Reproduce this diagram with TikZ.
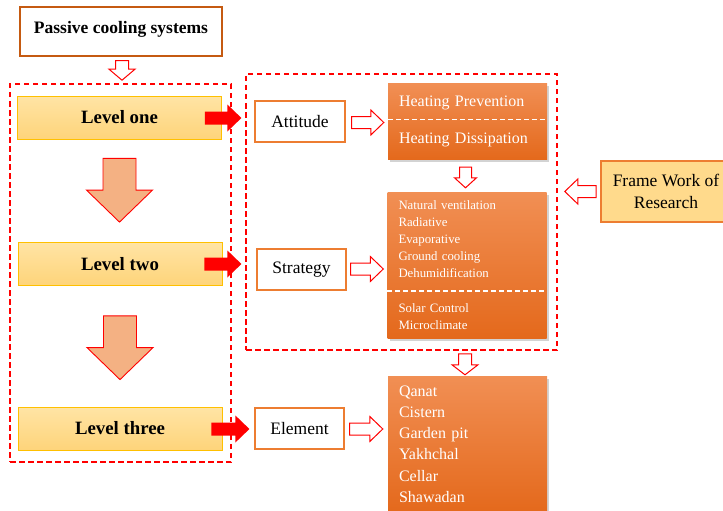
\documentclass[tikz,border=0pt]{standalone}
\usepackage{fontspec}
\setmainfont{Liberation Serif}
\usepackage{xcolor}
\usetikzlibrary{calc,shadows}
\definecolor{levelTop}{RGB}{255,228,165}
\definecolor{levelBot}{RGB}{254,212,122}
\definecolor{levelEdge}{RGB}{255,192,0}
\definecolor{listTop}{RGB}{241,143,84}
\definecolor{listBot}{RGB}{228,105,28}
\definecolor{boxEdge}{RGB}{237,125,49}
\definecolor{titleEdge}{RGB}{197,90,17}
\definecolor{bigArrow}{RGB}{244,177,131}
\definecolor{frameFill}{RGB}{255,218,140}
% block arrows between two points: [style]{from}{to}{half shaft}{half head}{head length}
\newcommand{\harrow}[6][]{%
  \path[#1] let \p1=(#2), \p2=(#3) in
    (\x1,{\y1-#4}) -- ({\x2-(#6)},{\y1-#4}) -- ({\x2-(#6)},{\y1-#5}) -- (\x2,\y1)
    -- ({\x2-(#6)},{\y1+#5}) -- ({\x2-(#6)},{\y1+#4}) -- (\x1,{\y1+#4}) -- cycle;}
\newcommand{\varrow}[6][]{%
  \path[#1] let \p1=(#2), \p2=(#3) in
    ({\x1-#4},\y1) -- ({\x1-#4},{\y2+#6}) -- ({\x1-#5},{\y2+#6}) -- (\x1,\y2)
    -- ({\x1+#5},{\y2+#6}) -- ({\x1+#4},{\y2+#6}) -- ({\x1+#4},\y1) -- cycle;}

\begin{document}
\begin{tikzpicture}[
  x=1pt, y=-1pt,
  titlebox/.style={draw=titleEdge, line width=1.2pt, fill=white, minimum width=202pt, minimum height=49pt, font=\fontsize{17.5}{21}\selectfont\bfseries},
  levelbox/.style={draw=levelEdge, line width=0.8pt, top color=levelTop, bottom color=levelBot, minimum width=204pt, minimum height=43pt, font=\fontsize{18.8}{22}\selectfont\bfseries},
  plainbox/.style={draw=boxEdge, line width=1.2pt, fill=white, minimum width=89pt, minimum height=41pt, font=\fontsize{17.5}{21}\selectfont},
  listbox/.style={top color=listTop, bottom color=listBot, text=white, align=left, inner xsep=11pt, inner ysep=0pt, text width=137pt,
    drop shadow={opacity=0.35, shadow xshift=2pt, shadow yshift=-2.5pt}},
  dashframe/.style={draw=red, line width=1.6pt, dash pattern=on 5.5pt off 3.5pt},
  hollow/.style={draw=red, line width=1pt, fill=white},
  solid/.style={fill=red},
  bigdown/.style={draw=red, line width=0.9pt, fill=bigArrow},
  divider/.style={draw=white, line width=1.3pt, dash pattern=on 5pt off 3pt}
]
  \useasboundingbox (0,0) rectangle (723,511);
  \clip (0,0) rectangle (723,511);

  % dashed groups
  \node[dashframe, minimum width=221pt, minimum height=378pt] (lvlframe) at (120.5,273) {};
  \node[dashframe, minimum width=311pt, minimum height=276pt] (rframe) at (401.5,212) {};

  % left column
  \node[titlebox] (passive) at (121,31.5) {\raisebox{8pt}{Passive cooling systems}};
  \node[levelbox] (one) at (119.5,117.5) {Level one};
  \node[levelbox] (two) at (120,264) {Level two};
  \node[levelbox] (three) at (120,428.5) {Level three};

  % middle column
  \node[plainbox, minimum width=90pt] (att) at (300,121.5) {Attitude};
  \node[plainbox] (strat) at (301.5,269.5) {Strategy};
  \node[plainbox] (elem) at (299.5,428.5) {Element};

  % right column
  \node[listbox, minimum height=75pt, font=\fontsize{16}{37}\selectfont] (heat) at (467.5,121.5)
    {Heating Prevention\\Heating Dissipation};
  \node[listbox, minimum height=146pt, font=\fontsize{12.8}{17.1}\selectfont] (slist) at (467,265)
    {Natural ventilation\\Radiative\\Evaporative\\Ground cooling\\Dehumidification\\[17.1pt]Solar Control\\Microclimate};
  \node[listbox, minimum height=136pt, font=\fontsize{16}{21.2}\selectfont] (elist) at (467.5,444)
    {Qanat\\Cistern\\Garden pit\\Yakhchal\\Cellar\\Shawadan};
  \draw[divider] ($(heat.west)+(0,-2)$) -- ($(heat.east)+(0,-2)$);
  \draw[divider] ($(slist.west)+(0,26)$) -- ($(slist.east)+(0,26)$);

  \node[draw=boxEdge, line width=2pt, fill=frameFill, minimum width=130pt, minimum height=61pt, align=center,
    font=\fontsize{17.5}{22}\selectfont] (frame) at (666,191.5) {Frame Work of\\Research};

  % arrows
  \varrow[hollow]{$(passive.south)+(1,4)$}{$(lvlframe.north)+(1,-3)$}{6.5pt}{13pt}{11pt}
  \varrow[bigdown]{$(one.south)+(0,19)$}{$(two.north)+(0,-20)$}{16.5pt}{33pt}{32pt}
  \varrow[bigdown]{$(two.south)+(0,30)$}{$(three.north)+(0,-27)$}{16.5pt}{33pt}{32pt}

  \harrow[solid]{$(one.east)+(-17,0.5)$}{$(att.west)+(-13,0)$}{6.5pt}{13.5pt}{14pt}
  \harrow[solid]{$(two.east)+(-18,0)$}{$(strat.west)+(-15,0)$}{6.5pt}{13.5pt}{14pt}
  \harrow[solid]{$(three.east)+(-11,0.5)$}{$(elem.west)+(-5,0)$}{6.5pt}{13.5pt}{14pt}

  \harrow[hollow]{$(att.east)+(6,1)$}{$(heat.west)+(-4,1)$}{6pt}{12.5pt}{13pt}
  \harrow[hollow]{$(strat.east)+(4,-0.5)$}{$(slist.west)+(-4,-0.5)$}{6pt}{12.5pt}{13pt}
  \harrow[hollow]{$(elem.east)+(5,0.5)$}{$(elist.west)+(-5,0.5)$}{6pt}{12.5pt}{13pt}

  \varrow[hollow]{$(heat.south)+(-2,8)$}{$(slist.north)+(-2,-4)$}{6pt}{11pt}{10pt}
  \varrow[hollow]{$(rframe.south)+(63.5,3)$}{$(elist.north)+(-2.5,-1)$}{6.5pt}{13pt}{10pt}
  \harrow[hollow]{$(frame.west)+(-4,0)$}{$(rframe.east)+(7,0)$}{6pt}{12.5pt}{-13pt}
\end{tikzpicture}
\end{document}
